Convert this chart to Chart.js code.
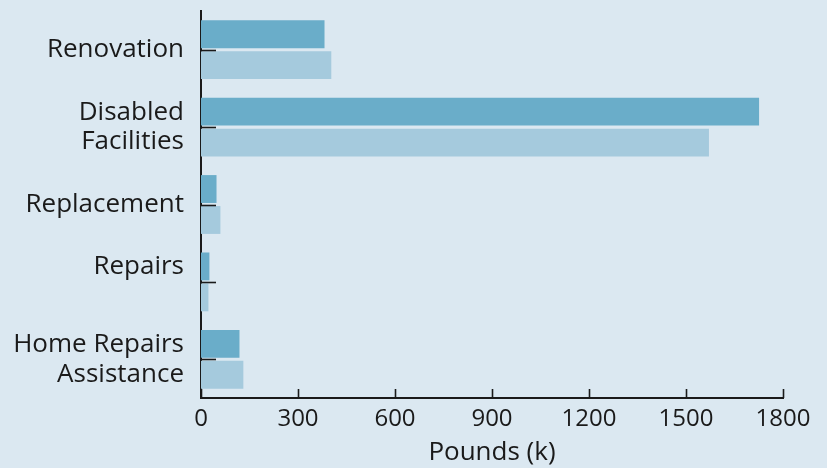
<!DOCTYPE html>
<html>
<head>
<meta charset="utf-8">
<script src="https://cdn.jsdelivr.net/npm/chart.js@4/dist/chart.umd.min.js"></script>
<style>
  html, body { margin: 0; padding: 0; background: #dbe8f1; }
  #wrap { width: 827px; height: 468px; }
</style>
</head>
<body>
<div id="wrap"><canvas id="c" width="827" height="468"></canvas></div>
<script>
// Grant categories and spending in thousands of pounds
const categories = [
  'Renovation',
  ['Disabled', 'Facilities'],
  'Replacement',
  ['Repairs', ''],
  ['Home Repairs', 'Assistance']
];
const seriesA = [382, 1726, 48, 26, 119];
const seriesB = [403, 1571, 60, 23, 131];
const xTicks = [0, 300, 600, 900, 1200, 1500, 1800];

const INK = '#1a1a1a';
const FONT = "'Open Sans', 'Noto Sans', sans-serif";

// Short tick marks drawn inward from both axes
const innerTicks = {
  id: 'innerTicks',
  afterDatasetsDraw(chart) {
    const { ctx, chartArea, scales } = chart;
    ctx.save();
    ctx.strokeStyle = INK;
    ctx.lineWidth = 1.6;
    const y = scales.y;
    y.ticks.forEach((t, i) => {
      const py = Math.round(y.getPixelForTick(i)) + 0.5;
      ctx.beginPath();
      ctx.moveTo(chartArea.left, py);
      ctx.lineTo(chartArea.left + 15, py);
      ctx.stroke();
    });
    const x = scales.x;
    x.ticks.forEach((t, i) => {
      const px = Math.round(x.getPixelForTick(i)) + 0.5;
      ctx.beginPath();
      ctx.moveTo(px, chartArea.bottom);
      ctx.lineTo(px, chartArea.bottom - 9);
      ctx.stroke();
    });
    ctx.restore();
  }
};

const bg = {
  id: 'bg',
  beforeDraw(chart) {
    const { ctx, width, height } = chart;
    ctx.save();
    ctx.fillStyle = '#dbe8f1';
    ctx.fillRect(0, 0, width, height);
    ctx.restore();
  }
};

new Chart(document.getElementById('c'), {
  type: 'bar',
  data: {
    labels: categories,
    datasets: [
      { data: seriesA, backgroundColor: '#6aadc9', borderWidth: 0 },
      { data: seriesB, backgroundColor: '#a5cadd', borderWidth: 0 }
    ]
  },
  options: {
    indexAxis: 'y',
    responsive: false,
    animation: false,
    devicePixelRatio: 1,
    categoryPercentage: 0.8,
    barPercentage: 0.9,
    layout: { padding: { top: 11, right: 44, bottom: 0, left: 0 } },
    plugins: { legend: { display: false }, tooltip: { enabled: false } },
    scales: {
      x: {
        min: 0,
        max: 1800,
        afterBuildTicks(scale) { scale.ticks = xTicks.map(v => ({ value: v })); },
        afterFit(scale) {
          scale.height = 70;
          scale.paddingLeft = 0;
          scale.paddingRight = 0;
        },
        grid: { display: false, drawTicks: false },
        border: { display: true, color: INK, width: 2 },
        ticks: {
          color: INK,
          padding: 7,
          font: { family: FONT, size: 24 },
          callback: v => String(v)
        },
        title: {
          display: true,
          text: 'Pounds (k)',
          color: INK,
          font: { family: FONT, size: 26 },
          padding: { top: 0, bottom: 0 }
        }
      },
      y: {
        afterFit(scale) {
          scale.width = 201;
          scale.paddingTop = 0;
          scale.paddingBottom = 0;
        },
        grid: { display: false, drawTicks: false },
        border: { display: true, color: INK, width: 2 },
        ticks: {
          color: INK,
          padding: 17,
          font: { family: FONT, size: 26, lineHeight: 1.15 }
        }
      }
    }
  },
  plugins: [bg, innerTicks]
});
</script>
</body>
</html>
